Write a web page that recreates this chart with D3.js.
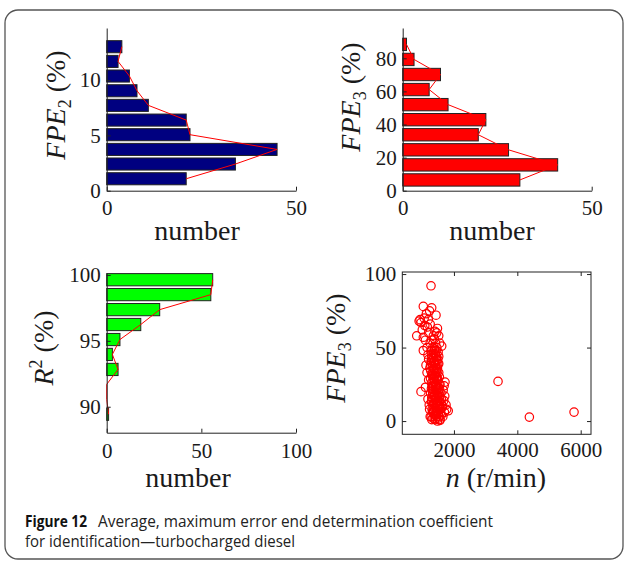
<!DOCTYPE html>
<html>
<head>
<meta charset="utf-8">
<script src="https://cdn.jsdelivr.net/npm/d3@7"></script>
<style>
body { margin: 0; background: #fff; }
svg text { font-family: "Liberation Serif", "Times New Roman", serif; fill: #1a1a1a; }
.axis path, .axis line { stroke: #222; }
</style>
</head>
<body>
<div id="graph1"></div>
<script>
// histogram bin centres and counts
var fpe2Bins = [1.08, 2.41, 3.73, 5.06, 6.38, 7.71, 9.03, 10.36, 11.68, 13.01];
var fpe2Counts = [21, 34, 45, 22, 21, 11, 8, 6, 3, 4];

var fpe3Bins = [6.5, 15.6, 24.7, 33.8, 42.9, 52.0, 61.1, 70.2, 79.3, 88.4];
var fpe3Counts = [31, 41, 28, 20, 22, 12, 7, 10, 3, 1];

var r2Bins = [89.43, 90.56, 91.70, 92.83, 93.97, 95.10, 96.24, 97.37, 98.51, 99.64];
var r2Counts = [1, 0, 0, 6, 3, 7, 18, 28, 55, 56];

// speed n (r/min) vs FPE3 (%)
var speedPoints = [
  [1340,2],[1455,3],[1560,1],[1390,4],[1510,5],[1600,4],[1320,6],[1445,7],[1575,8],[1380,9],
  [1490,10],[1620,9],[1335,11],[1460,12],[1550,13],[1300,14],[1410,15],[1530,16],[1370,17],[1480,18],
  [1590,19],[1320,20],[1440,21],[1545,22],[1330,23],[1450,24],[1560,25],[1290,26],[1400,27],[1500,28],
  [1350,29],[1460,30],[1310,31],[1420,32],[1520,33],[1270,34],[1380,35],[1480,36],[1320,37],[1430,38],
  [1520,39],[1280,40],[1390,41],[1490,42],[1340,43],[1450,44],[1300,45],[1410,46],[1500,47],[1280,48],
  [1380,49],[1460,50],
  [1400,1],[1500,2],[1280,3],[1430,5],[1360,7],[1520,8],[1400,11],[1600,12],[1290,13],[1500,14],
  [1440,16],[1330,18],[1560,17],[1400,19],[1500,21],[1290,22],[1420,23],[1530,25],[1380,26],[1460,28],
  [1260,29],[1540,30],[1390,31],[1470,33],[1340,34],[1430,36],[1260,38],[1490,39],[1360,40],[1440,42],
  [1290,43],[1520,44],[1360,46],[1440,48],[1330,50],
  [1300,1],[1420,2],[1530,3],[1350,5],[1470,6],[1580,6],[1310,8],[1430,9],[1540,10],[1360,12],
  [1480,13],[1300,16],[1390,17],[1520,19],[1350,21],[1470,22],[1310,24],[1420,25],[1340,27],[1470,29],
  [1400,30],[1300,32],[1440,34],[1360,36],[1400,38],[1300,41],[1460,41],[1350,44],[1420,45],[1390,48],
  [1460,35],[1500,23],[1370,14],[1440,4],
  [1650,3],[1700,6],[1770,8],[1820,7],[1750,11],[1680,14],[1710,17],[1660,21],[1718,26.5],[1690,24],
  [1560,0.5],[1480,0],[1640,10],[1600,15],
  [960,20],[1100,23],[1200,28],[1180,15],[1230,8],[1250,3],[1150,33],[1118,38],[1200,42],[1240,36],
  [1260,19],[1220,11],
  [1276,92],[1033,78],[1298,77],[1434,72],[930,69],[960,67],[900,68],[1191,69],[1060,70],[1130,73],
  [1160,64],[1080,65],[1250,66],[825,58],[1033,57],[1456,60],[1400,61],[1350,58],[1200,60],[1100,55],
  [1300,55],[1614,51],[1033,48],[1150,50],[1250,53],[1380,56],[1420,53],[1180,45],[1000,62],[1230,75],
  [1520,58],[1550,53],[1480,63],
  [3391,27],[4380,2.7],[5790,6.1]
];

var captionBold = "Figure 12";
var captionLine1 = "Average, maximum error end determination coefficient";
var captionLine2 = "for identification\u2014turbocharged diesel";

var svg = d3.select("#graph1")
  .append("svg")
    .attr("width", 624)
    .attr("height", 561);

svg.append("rect")
  .attr("x", 5).attr("y", 10)
  .attr("width", 618).attr("height", 549)
  .attr("rx", 13)
  .style("fill", "none")
  .style("stroke", "#555")
  .style("stroke-width", 1.3);

function styleTicks(a) {
  a.selectAll("text")
    .style("font-size", "21px")
    .style("font-family", "'Liberation Serif', serif")
    .attr("fill", "#1a1a1a");
}

function histPanel(o) {
  var x = d3.scaleLinear().domain(o.xDomain).range([o.left, o.right]);
  var y = d3.scaleLinear().domain(o.yDomain).range([o.bottom, o.top]);
  var step = Math.abs(y(o.bins[1]) - y(o.bins[0]));
  var h = step * 0.82;
  var g = svg.append("g");

  var data = o.bins.map(function(b, i) { return {bin: b, count: o.counts[i]}; });

  g.selectAll("rect.bar")
    .data(data.filter(function(d) { return d.count > 0; }))
    .enter()
    .append("rect")
      .attr("class", "bar")
      .attr("x", x(0))
      .attr("y", function(d) { return y(d.bin) - h / 2; })
      .attr("width", function(d) { return x(d.count) - x(0); })
      .attr("height", h)
      .style("fill", o.color)
      .style("stroke", "#222")
      .style("stroke-width", 1);

  g.append("path")
    .attr("d", d3.line()
      .x(function(d) { return x(d.count); })
      .y(function(d) { return y(d.bin); })(data))
    .style("fill", "none")
    .style("stroke", "#ff0000")
    .style("stroke-width", 1);

  g.append("g")
    .attr("class", "axis")
    .attr("transform", "translate(0," + o.bottom + ")")
    .call(d3.axisBottom(x).tickValues(o.xTicks).tickSizeInner(-4).tickSizeOuter(0).tickPadding(o.xPad))
    .call(styleTicks);

  g.append("g")
    .attr("class", "axis")
    .attr("transform", "translate(" + o.left + ",0)")
    .call(d3.axisLeft(y).tickValues(o.yTicks).tickSizeInner(-4).tickSizeOuter(0).tickPadding(6))
    .call(styleTicks);

  svg.append("text")
    .attr("x", o.xLabelX).attr("y", o.xLabelY)
    .attr("text-anchor", "middle")
    .style("font-size", "28px")
    .text("number");
}

function yLabel(x, y, main, sub, isSup) {
  var t = svg.append("text")
    .attr("transform", "translate(" + x + "," + y + ") rotate(-90)")
    .attr("text-anchor", "middle")
    .style("font-size", "28px");
  t.append("tspan").style("font-style", "italic").text(main);
  t.append("tspan").style("font-size", "18px").attr("dy", isSup ? -11 : 6).text(sub);
  t.append("tspan").attr("dy", isSup ? 11 : -6).text(" (%)");
}

histPanel({
  bins: fpe2Bins, counts: fpe2Counts, color: "#000080",
  xDomain: [0, 50], yDomain: [0, 14.7],
  left: 106.7, right: 296, top: 28, bottom: 190.7,
  xTicks: [0, 50], yTicks: [0, 5, 10], xPad: 9,
  xLabelX: 197, xLabelY: 240
});
yLabel(65, 105, "FPE", "2", false);

histPanel({
  bins: fpe3Bins, counts: fpe3Counts, color: "#ff0000",
  xDomain: [0, 50], yDomain: [0, 98.3],
  left: 402.7, right: 591.7, top: 28, bottom: 190.7,
  xTicks: [0, 50], yTicks: [0, 20, 40, 60, 80], xPad: 9,
  xLabelX: 492, xLabelY: 240
});
yLabel(360, 97, "FPE", "3", false);

histPanel({
  bins: r2Bins, counts: r2Counts, color: "#00ff00",
  xDomain: [0, 100], yDomain: [88.03, 100.15],
  left: 106.7, right: 296, top: 273, bottom: 432.7,
  xTicks: [0, 50, 100], yTicks: [90, 95, 100], xPad: 10,
  xLabelX: 188, xLabelY: 487
});
yLabel(53, 348, "R", "2", true);

// scatter panel
var sx = d3.scaleLinear().domain([370, 6325]).range([402.3, 591]);
var sy = d3.scaleLinear().domain([-9, 101.4]).range([434.3, 272]);

svg.append("rect")
  .attr("x", sx.range()[0]).attr("y", sy.range()[1])
  .attr("width", sx.range()[1] - sx.range()[0])
  .attr("height", sy.range()[0] - sy.range()[1])
  .style("fill", "none").style("stroke", "#222").style("stroke-width", 1);

svg.append("g").attr("class", "axis")
  .attr("transform", "translate(0," + sy.range()[0] + ")")
  .call(d3.axisBottom(sx).tickValues([2000, 4000, 6000]).tickFormat(d3.format("d")).tickSizeInner(-4).tickSizeOuter(0).tickPadding(8))
  .call(function(a) { a.select(".domain").remove(); })
  .call(styleTicks);
svg.append("g").attr("class", "axis")
  .attr("transform", "translate(0," + sy.range()[1] + ")")
  .call(d3.axisTop(sx).tickValues([2000, 4000, 6000]).tickSizeInner(-4).tickSizeOuter(0).tickFormat(""))
  .call(function(a) { a.select(".domain").remove(); });
svg.append("g").attr("class", "axis")
  .attr("transform", "translate(" + sx.range()[0] + ",0)")
  .call(d3.axisLeft(sy).tickValues([0, 50, 100]).tickSizeInner(-4).tickSizeOuter(0).tickPadding(6))
  .call(function(a) { a.select(".domain").remove(); })
  .call(styleTicks);
svg.append("g").attr("class", "axis")
  .attr("transform", "translate(" + sx.range()[1] + ",0)")
  .call(d3.axisRight(sy).tickValues([0, 50, 100]).tickSizeInner(-4).tickSizeOuter(0).tickFormat(""))
  .call(function(a) { a.select(".domain").remove(); });

svg.append("g")
  .selectAll("circle")
  .data(speedPoints)
  .enter()
  .append("circle")
    .attr("cx", function(d) { return sx(d[0]); })
    .attr("cy", function(d) { return sy(d[1]); })
    .attr("r", 4.2)
    .style("fill", "none")
    .style("stroke", "#ff0000")
    .style("stroke-width", 1.2);

yLabel(345, 348, "FPE", "3", false);

var nl = svg.append("text")
  .attr("x", 496).attr("y", 487)
  .attr("text-anchor", "middle")
  .style("font-size", "28px");
nl.append("tspan").style("font-style", "italic").text("n");
nl.append("tspan").text(" (r/min)");

// caption
var capFont = "'Open Sans', 'Noto Sans', sans-serif";
svg.append("text")
  .attr("x", 25).attr("y", 527)
  .attr("textLength", 62).attr("lengthAdjust", "spacingAndGlyphs")
  .style("font-family", capFont).style("font-weight", "bold")
  .style("font-size", "16px").style("fill", "#111")
  .text(captionBold);
svg.append("text")
  .attr("x", 98).attr("y", 527)
  .attr("textLength", 395).attr("lengthAdjust", "spacingAndGlyphs")
  .style("font-family", capFont)
  .style("font-size", "16px").style("fill", "#222")
  .text(captionLine1);
svg.append("text")
  .attr("x", 25).attr("y", 547)
  .attr("textLength", 270).attr("lengthAdjust", "spacingAndGlyphs")
  .style("font-family", capFont)
  .style("font-size", "16px").style("fill", "#222")
  .text(captionLine2);
</script>
</body>
</html>
